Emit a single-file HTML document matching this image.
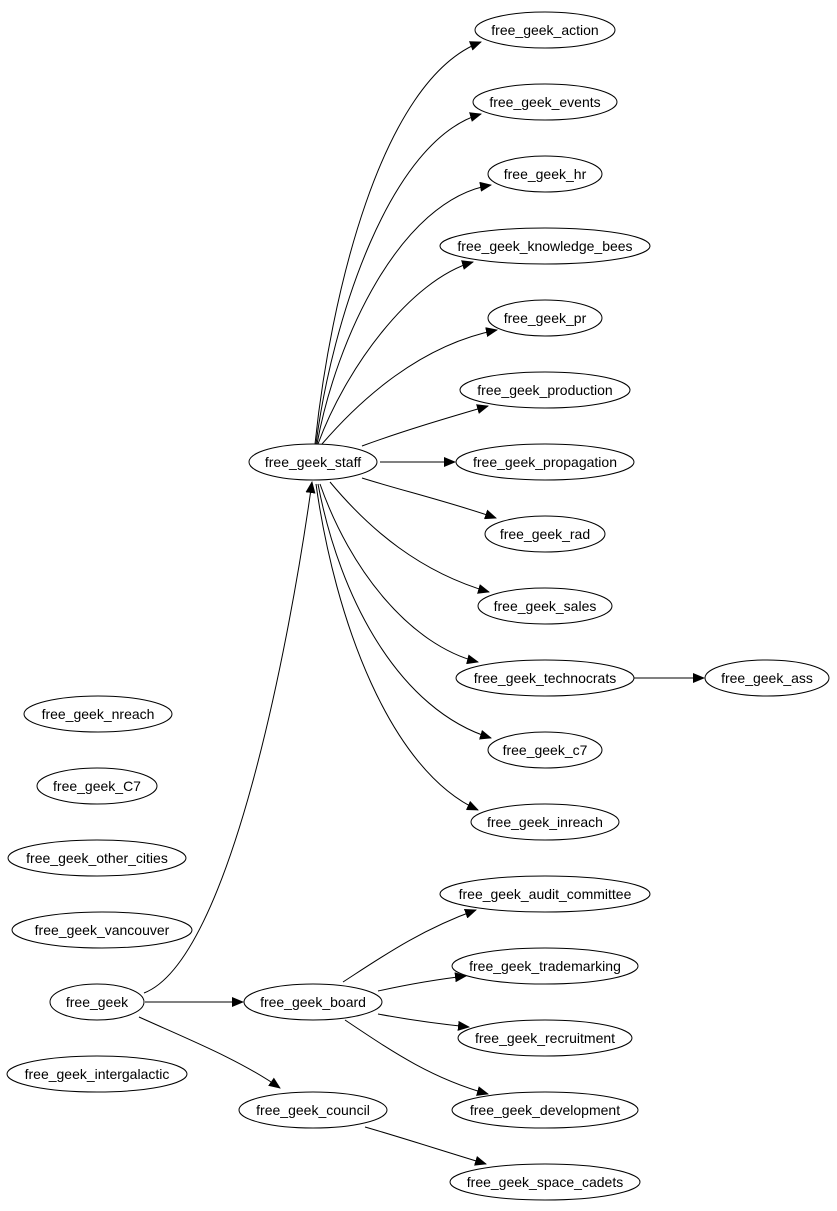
<!DOCTYPE html>
<html><head><meta charset="utf-8"><style>
html,body{margin:0;padding:0;background:#fff}
svg{display:block}
text{font-family:"Liberation Sans",Arial,sans-serif;font-size:14px;fill:#000}
</style></head><body>
<svg width="837" height="1211" viewBox="0 0 837 1211" xmlns="http://www.w3.org/2000/svg">
<defs><marker id="a" markerWidth="12" markerHeight="10" refX="11" refY="5" orient="auto" markerUnits="userSpaceOnUse"><path d="M0,0 L12,5 L0,10 Z" fill="#000"/></marker></defs>
<g fill="none" stroke="#000" stroke-width="1">
<path marker-end="url(#a)" d="M315,444 C330,300 380,80 481,42"/>
<path marker-end="url(#a)" d="M316,444 C332,320 390,140 481,114"/>
<path marker-end="url(#a)" d="M317,444 C336,340 400,200 491,185"/>
<path marker-end="url(#a)" d="M318,444 C345,370 410,280 473,262"/>
<path marker-end="url(#a)" d="M322,444 C360,400 420,345 497,330"/>
<path marker-end="url(#a)" d="M362,446 C400,432 440,420 488,406"/>
<path marker-end="url(#a)" d="M380,462 L455,462"/>
<path marker-end="url(#a)" d="M362,478 C400,490 450,502 496,518"/>
<path marker-end="url(#a)" d="M330,482 C370,530 420,572 489,592"/>
<path marker-end="url(#a)" d="M320,484 C350,570 410,645 478,662"/>
<path marker-end="url(#a)" d="M318,484 C340,600 400,710 491,738"/>
<path marker-end="url(#a)" d="M316,484 C335,620 390,770 478,810"/>
<path marker-end="url(#a)" d="M634,678 L704,678"/>
<path marker-end="url(#a)" d="M144,993 C230,960 290,640 312,482"/>
<path marker-end="url(#a)" d="M145,1002 L243,1002"/>
<path marker-end="url(#a)" d="M139,1017 C190,1040 240,1060 280,1088"/>
<path marker-end="url(#a)" d="M343,982 C380,958 420,930 476,910"/>
<path marker-end="url(#a)" d="M378,991 C410,984 440,979 466,976"/>
<path marker-end="url(#a)" d="M378,1014 C410,1020 440,1024 469,1027"/>
<path marker-end="url(#a)" d="M345,1020 C390,1050 430,1078 488,1094"/>
<path marker-end="url(#a)" d="M365,1127 C400,1137 440,1150 486,1164"/>
</g>
<g fill="#fff" stroke="#000" stroke-width="1">
<ellipse cx="545" cy="30" rx="70" ry="18"/>
<ellipse cx="545" cy="102" rx="72" ry="18"/>
<ellipse cx="545" cy="174" rx="57" ry="18"/>
<ellipse cx="545" cy="246" rx="105" ry="18"/>
<ellipse cx="545" cy="318" rx="57" ry="18"/>
<ellipse cx="545" cy="390" rx="85" ry="18"/>
<ellipse cx="545" cy="462" rx="89" ry="18"/>
<ellipse cx="545" cy="534" rx="60" ry="18"/>
<ellipse cx="545" cy="606" rx="67" ry="18"/>
<ellipse cx="545" cy="678" rx="89" ry="18"/>
<ellipse cx="767" cy="678" rx="62" ry="18"/>
<ellipse cx="545" cy="750" rx="57" ry="18"/>
<ellipse cx="545" cy="822" rx="74" ry="18"/>
<ellipse cx="545" cy="894" rx="105" ry="18"/>
<ellipse cx="545" cy="966" rx="93" ry="18"/>
<ellipse cx="545" cy="1038" rx="87" ry="18"/>
<ellipse cx="545" cy="1110" rx="93" ry="18"/>
<ellipse cx="545" cy="1182" rx="95" ry="18"/>
<ellipse cx="313" cy="462" rx="64" ry="18"/>
<ellipse cx="313" cy="1002" rx="69" ry="18"/>
<ellipse cx="313" cy="1110" rx="74" ry="18"/>
<ellipse cx="97" cy="1002" rx="47" ry="18"/>
<ellipse cx="98" cy="714" rx="74" ry="18"/>
<ellipse cx="97" cy="786" rx="60" ry="18"/>
<ellipse cx="97" cy="858" rx="89" ry="18"/>
<ellipse cx="102" cy="930" rx="90" ry="18"/>
<ellipse cx="97" cy="1074" rx="90" ry="18"/>
</g>
<g text-anchor="middle">
<text x="545" y="35">free_geek_action</text>
<text x="545" y="107">free_geek_events</text>
<text x="545" y="179">free_geek_hr</text>
<text x="545" y="251">free_geek_knowledge_bees</text>
<text x="545" y="323">free_geek_pr</text>
<text x="545" y="395">free_geek_production</text>
<text x="545" y="467">free_geek_propagation</text>
<text x="545" y="539">free_geek_rad</text>
<text x="545" y="611">free_geek_sales</text>
<text x="545" y="683">free_geek_technocrats</text>
<text x="767" y="683">free_geek_ass</text>
<text x="545" y="755">free_geek_c7</text>
<text x="545" y="827">free_geek_inreach</text>
<text x="545" y="899">free_geek_audit_committee</text>
<text x="545" y="971">free_geek_trademarking</text>
<text x="545" y="1043">free_geek_recruitment</text>
<text x="545" y="1115">free_geek_development</text>
<text x="545" y="1187">free_geek_space_cadets</text>
<text x="313" y="467">free_geek_staff</text>
<text x="313" y="1007">free_geek_board</text>
<text x="313" y="1115">free_geek_council</text>
<text x="97" y="1007">free_geek</text>
<text x="98" y="719">free_geek_nreach</text>
<text x="97" y="791">free_geek_C7</text>
<text x="97" y="863">free_geek_other_cities</text>
<text x="102" y="935">free_geek_vancouver</text>
<text x="97" y="1079">free_geek_intergalactic</text>
</g>
</svg>
</body></html>
